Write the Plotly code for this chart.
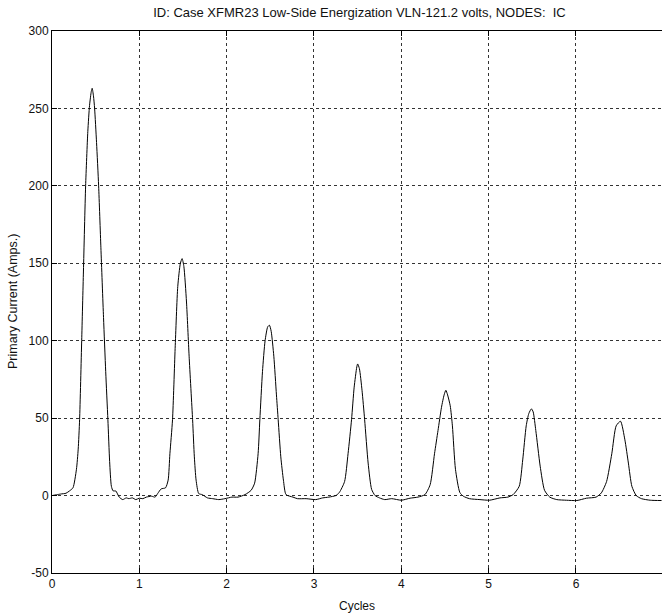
import plotly.graph_objects as go

# Waveform sample points (cycles, amps)
cycles = [
    0.00, 0.05, 0.10, 0.16, 0.20, 0.24, 0.28, 0.30, 0.316, 0.34, 0.36, 0.385, 0.41, 0.43, 0.45, 0.46,
    0.475, 0.488, 0.51, 0.534, 0.56, 0.59, 0.615, 0.64, 0.66, 0.68, 0.70, 0.73, 0.77, 0.81, 0.85,
    0.88, 0.92, 0.96, 1.00, 1.04, 1.08, 1.14, 1.18, 1.21, 1.25, 1.30, 1.33, 1.35, 1.38, 1.41, 1.44,
    1.47, 1.49, 1.51, 1.54, 1.57, 1.61, 1.63, 1.65, 1.68, 1.72, 1.78, 1.84, 1.91, 1.98, 2.06, 2.13,
    2.21, 2.28, 2.32, 2.36, 2.38, 2.41, 2.44, 2.47, 2.49, 2.51, 2.54, 2.57, 2.59, 2.62, 2.65, 2.68,
    2.76, 2.81, 2.91, 3.02, 3.10, 3.17, 3.25, 3.29, 3.35, 3.39, 3.43, 3.46, 3.49, 3.50, 3.52, 3.55,
    3.58, 3.62, 3.66, 3.70, 3.75, 3.81, 3.89, 4.00, 4.10, 4.19, 4.27, 4.33, 4.38, 4.42, 4.46, 4.49,
    4.51, 4.53, 4.56, 4.585, 4.62, 4.67, 4.71, 4.78, 4.90, 5.01, 5.13, 5.22, 5.28, 5.35, 5.39, 5.43,
    5.46, 5.49, 5.51, 5.54, 5.59, 5.64, 5.70, 5.78, 5.89, 6.01, 6.12, 6.23, 6.29, 6.35, 6.41, 6.46,
    6.51, 6.56, 6.60, 6.64, 6.69, 6.75, 6.85, 6.98,
]
current = [
    0.0, 0.5, 1.0, 1.5, 3.0, 5.0, 17.0, 30.0, 49.0, 100.0, 145.0, 200.0, 235.0, 252.0, 261.0, 263.0,
    258.0, 250.0, 228.0, 200.0, 160.0, 115.0, 80.0, 49.0, 22.0, 6.0, 3.0, 3.0, -1.0, -2.6, -1.5,
    -2.0, -1.5, -2.6, -1.7, -2.0, -1.0, -0.4, -1.0, 1.3, 4.3, 5.0, 10.0, 27.0, 49.0, 95.0, 135.0,
    150.0, 153.0, 148.0, 125.0, 90.0, 49.0, 25.0, 10.0, 1.3, 0.6, -1.5, -2.0, -2.6, -2.0, -1.0, -1.0,
    0.6, 3.4, 8.0, 27.0, 49.0, 80.0, 100.0, 109.0, 110.0, 106.0, 90.0, 65.0, 49.0, 25.0, 10.0, 0.6,
    -1.0, -2.0, -2.0, -2.6, -1.5, -1.0, 0.0, 2.0, 9.0, 27.0, 49.0, 70.0, 83.0, 85.0, 82.0, 68.0,
    49.0, 21.0, 4.0, 0.0, -1.5, -2.6, -2.0, -3.0, -1.7, -1.0, 0.6, 7.0, 27.0, 42.0, 57.0, 65.0,
    68.0, 65.0, 58.0, 45.0, 17.0, 2.0, -0.4, -2.0, -2.6, -3.0, -1.5, -1.0, 0.6, 6.0, 23.0, 45.0,
    53.0, 56.0, 54.0, 42.0, 19.0, 3.4, -1.0, -2.6, -3.0, -3.2, -1.7, -1.0, 1.7, 9.0, 27.0, 45.0,
    48.0, 36.0, 21.0, 6.0, 0.0, -2.0, -3.0, -3.2,
]

x_ticks = [0, 1, 2, 3, 4, 5, 6, 7]
y_ticks = [-50, 0, 50, 100, 150, 200, 250, 300]

title_text = "ID: Case XFMR23 Low-Side Energization VLN-121.2 volts, NODES:  IC"
x_title = "Cycles"
y_title = "Primary Current (Amps.)"

FONT = "Liberation Sans, Arial, sans-serif"

fig = go.Figure()
fig.add_trace(go.Scatter(
    x=cycles, y=current, mode="lines",
    line=dict(color="black", width=1, shape="spline", smoothing=0.6),
    showlegend=False, hoverinfo="skip",
))

fig.update_layout(
    width=662, height=616,
    margin=dict(l=52, r=0, t=31, b=43, autoexpand=False),
    paper_bgcolor="white", plot_bgcolor="white",
    font=dict(family=FONT, size=12, color="black"),
    title=dict(text=title_text, x=0.543, xanchor="center", y=0.979, yanchor="middle",
               font=dict(family=FONT, size=13, color="#111111")),
    annotations=[
        dict(text=x_title, xref="paper", yref="paper", x=0.5, y=0, xanchor="center",
             yanchor="top", yshift=-24, showarrow=False,
             font=dict(family=FONT, size=12, color="#111111")),
        dict(text=y_title, xref="paper", yref="paper", x=0, y=0.5, xanchor="right",
             yanchor="middle", xshift=-30, textangle=-90, showarrow=False,
             font=dict(family=FONT, size=12.5, color="#111111")),
    ],
)
fig.update_xaxes(
    range=[0, 6.985], tickvals=x_ticks, ticktext=[str(v) for v in x_ticks],
    showline=True, linecolor="black", linewidth=1, mirror="ticks",
    ticks="inside", ticklen=5, tickcolor="black", automargin=False,
    showgrid=True, gridcolor="#333333", griddash="dot", gridwidth=1,
    zeroline=False, tickfont=dict(size=12, family=FONT, color="#111111"),
)
fig.update_yaxes(
    range=[-50, 300], tickvals=y_ticks, ticktext=[str(v) for v in y_ticks],
    showline=True, linecolor="black", linewidth=1, mirror=False,
    ticks="inside", ticklen=5, tickcolor="black", automargin=False,
    showgrid=True, gridcolor="#333333", griddash="dot", gridwidth=1,
    zeroline=False, tickfont=dict(size=12, family=FONT, color="#111111"),
)

fig.write_html(
    "out.html",
    config={"displayModeBar": False},
    post_script="document.body.style.margin='0';document.body.style.padding='0';"
                "document.body.style.overflow='hidden';",
)
